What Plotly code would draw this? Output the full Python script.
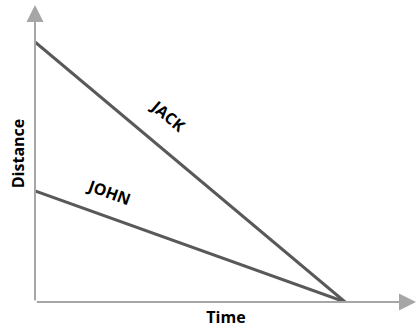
import plotly.graph_objects as go

# Distance-time data for two runners who reach the same point at the same time
time = [0, 10]
jack_distance = [10.0, 0.0]
john_distance = [4.27, 0.0]

runner_names = ["JACK", "JOHN"]
label_pos = {"JACK": (4.3, 7.15, 40), "JOHN": (2.36, 4.22, 20)}

x_max = 12.32
y_max = 11.42

line_color = "#595959"
axis_color = "#a6a6a6"
font_family = "Open Sans, Liberation Sans, sans-serif"

fig = go.Figure()
for name, dist in zip(runner_names, [jack_distance, john_distance]):
    fig.add_trace(go.Scatter(
        x=time, y=dist, mode="lines", name=name,
        line=dict(color=line_color, width=3),
        showlegend=False, hoverinfo="skip",
    ))

# Vertical axis arrow from the origin
fig.add_annotation(x=0, y=y_max, ax=0, ay=0, xref="x", yref="y", axref="x", ayref="y",
                   showarrow=True, arrowhead=2, arrowsize=1.7, arrowwidth=2,
                   arrowcolor=axis_color, text="")
# Horizontal axis arrow, running off the right edge of the page
fig.add_annotation(x=1.04, y=0, ax=-397, ay=0, xref="paper", yref="y",
                   axref="pixel", ayref="pixel",
                   showarrow=True, arrowhead=2, arrowsize=1.7, arrowwidth=2,
                   arrowcolor=axis_color, text="")

# Runner labels along their lines
for name in runner_names:
    lx, ly, ang = label_pos[name]
    fig.add_annotation(x=lx, y=ly, xref="x", yref="y", text="<b>%s</b>" % name,
                       showarrow=False, textangle=ang,
                       font=dict(family=font_family, size=16, color="#000000"))

fig.update_layout(
    width=417, height=329,
    margin=dict(l=35, r=0, t=5, b=27),
    paper_bgcolor="white", plot_bgcolor="white",
    xaxis=dict(range=[0, x_max], showgrid=False, zeroline=False, showticklabels=False,
               ticks="", showline=False,
               title=dict(text="<b>Time</b>", standoff=9,
                          font=dict(family=font_family, size=16, color="#000000"))),
    yaxis=dict(range=[0, y_max], showgrid=False, zeroline=False, showticklabels=False,
               ticks="", showline=False,
               title=dict(text="<b>Distance</b>", standoff=5,
                          font=dict(family=font_family, size=16, color="#000000"))),
)

fig.write_html("out.html")
